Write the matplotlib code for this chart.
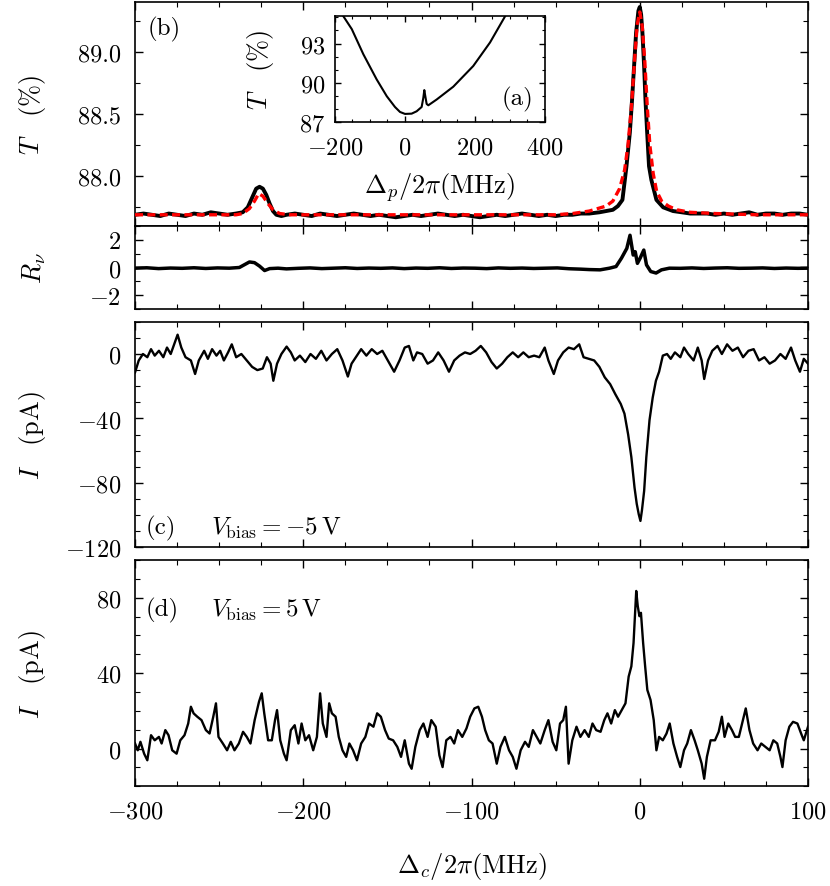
import matplotlib
matplotlib.use('Agg')
import matplotlib.pyplot as plt
from matplotlib.ticker import MultipleLocator, FixedLocator

plt.rcParams.update({
    'font.family': 'serif', 'font.serif': ['cmr10'], 'mathtext.fontset': 'cm',
    'axes.formatter.use_mathtext': True, 'font.size': 17, 'axes.linewidth': 1.2,
})

# ---------------- data ----------------
# panel (b): transmission vs coupling detuning
x_T = [-300, -295, -290, -285, -280, -275, -270, -265, -260, -255, -250, -245, -240,
       -236, -233, -230, -228, -226, -224, -222, -220, -218, -216, -213, -210,
       -205, -200, -195, -190, -185, -180, -175, -170, -165, -160,
       -155, -150, -145, -140, -135, -130, -125, -120, -115, -110,
       -105, -100, -95, -90, -85, -80, -75, -70, -65, -60,
       -55, -50, -45, -40, -35, -30,
       -24, -20, -16, -13, -10.3, -7.9, -5.9, -4.6, -3.4, -2.2, -0.8, 0, 0.8, 1.6,
       2.6, 3.4, 4.4, 5.5, 6.9, 9.9, 13.9, 19.8,
       25, 30, 35, 40, 45, 50, 55, 60, 65, 70, 75, 80, 85, 90, 95, 100]
T_data = [87.69, 87.70, 87.69, 87.68, 87.70, 87.69, 87.68, 87.70, 87.69, 87.71, 87.70, 87.69, 87.70,
          87.71, 87.75, 87.84, 87.90, 87.915, 87.90, 87.85, 87.78, 87.72, 87.69, 87.68, 87.69,
          87.70, 87.69, 87.68, 87.70, 87.69, 87.68, 87.69, 87.70, 87.69, 87.68,
          87.69, 87.68, 87.67, 87.68, 87.69, 87.68, 87.69, 87.70, 87.69, 87.68,
          87.69, 87.68, 87.67, 87.68, 87.69, 87.68, 87.69, 87.70, 87.69, 87.68,
          87.69, 87.68, 87.69, 87.69, 87.70, 87.70,
          87.71, 87.72, 87.73, 87.76, 87.81, 88.08, 88.35, 88.61, 88.88, 89.15, 89.33, 89.36, 89.30, 89.15,
          88.88, 88.61, 88.35, 88.08, 87.97, 87.81, 87.75, 87.72,
          87.71, 87.70, 87.70, 87.70, 87.69, 87.70, 87.69, 87.70, 87.71, 87.69, 87.70, 87.70, 87.69, 87.70, 87.70, 87.69]

x_fit = [-300, -260, -240, -236, -232, -229, -226.5, -224, -221, -218,
         -214, -208, -150, -80, -50, -40, -30, -25, -20, -16,
         -12, -9, -7, -5, -3, -1.5, 0, 1.5, 3, 4.5,
         6, 8, 10, 13, 17, 22, 30, 45, 70, 100]
T_fit = [87.69, 87.69, 87.69, 87.70, 87.74, 87.80, 87.86, 87.84, 87.78, 87.73,
         87.70, 87.69, 87.69, 87.69, 87.69, 87.70, 87.72, 87.74, 87.76, 87.80,
         87.90, 88.05, 88.25, 88.55, 88.95, 89.22, 89.32, 89.20, 88.92, 88.55,
         88.25, 88.02, 87.88, 87.80, 87.76, 87.73, 87.71, 87.70, 87.69, 87.69]

# residuals
x_R = [-300, -293, -286, -279, -272, -265, -258, -251, -244, -238,
       -235, -232, -229, -226, -223, -220, -215, -210, -203, -196,
       -189, -182, -175, -168, -161, -154, -147, -140, -133, -126,
       -119, -112, -105, -98, -91, -84, -77, -70, -63, -56,
       -49, -42, -35, -30, -23.6, -18, -14.1, -10.9, -7.7, -5.8,
       -3.9, -2.7, -1.4, 0.2, 2.4, 4.0, 6.5, 9.7, 12.9, 17.6,
       24, 31, 38, 45, 52, 59, 66, 73, 80, 87, 94, 100]
R_vals = [-0.05, -0.02, -0.08, -0.04, -0.06, -0.02, -0.07, -0.03, -0.05, 0.0,
          0.2, 0.4, 0.35, 0.1, -0.22, -0.08, -0.05, -0.1, -0.06, -0.03,
          -0.08, -0.05, -0.02, -0.07, -0.04, -0.06, -0.03, -0.08, -0.04, -0.06,
          -0.02, -0.07, -0.04, -0.05, -0.08, -0.03, -0.06, -0.04, -0.07, -0.05,
          -0.03, -0.09, -0.12, -0.15, -0.17, -0.05, 0.07, 0.67, 1.38, 2.33,
          0.9, 1.14, 0.3, 0.67, 1.26, 0.19, -0.29, -0.4, -0.17, -0.05,
          -0.06, -0.03, -0.07, -0.04, -0.02, -0.06, -0.05, -0.03, -0.07, -0.04, -0.06, -0.05]

# panel (c): current, V_bias = -5 V
x_c = [-300.0, -297.8, -295.3, -292.7, -290.5, -288.3, -285.8, -283.2, -281.0, -278.8,
       -274.7, -272.5, -270.0, -266.8, -264.3, -262.1, -258.9, -256.7, -254.2, -251.6,
       -249.4, -247.2, -244.7, -242.5, -239.9, -236.8, -233.6, -230.4, -227.3, -224.1,
       -221.6, -219.4, -217.8, -215.6, -213.0, -209.9, -207.4, -205.1, -202.0, -198.8,
       -195.7, -192.5, -189.3, -186.2, -183.0, -179.8, -176.7, -173.5, -171.3, -168.8,
       -165.6, -162.5, -159.3, -156.1, -153.0, -149.8, -146.0, -142.8, -139.7, -137.2,
       -134.6, -132.4, -129.3, -126.1, -122.9, -119.8, -116.6, -113.4, -110.3, -107.1,
       -103.9, -100.8, -97.6, -94.5, -91.3, -88.1, -85.0, -81.8, -78.7, -75.5,
       -72.3, -69.2, -66.0, -62.8, -59.7, -56.5, -54.3, -51.1, -48.6, -45.5,
       -42.3, -39.1, -36.0, -33.4, -30.3, -27.1, -24.0, -20.8, -17.6, -14.5,
       -11.3, -9.1, -6.9, -5.0, -3.1, -1.8, -0.6, 0.4, 1.3, 2.6,
       3.9, 5.8, 7.7, 9.6, 11.5, 13.7, 16.2, 18.4, 20.9, 24.1,
       26.3, 28.8, 32.0, 34.5, 36.8, 38.3, 40.6, 43.1, 46.2, 48.8,
       51.9, 55.1, 58.3, 61.4, 64.6, 67.7, 70.9, 74.1, 77.2, 80.4,
       83.6, 86.7, 89.9, 92.4, 95.2, 97.5, 100.0]
I_c = [-11.4, -4, 0, -2, 3, -1, 2, -2, 4, 0,
       12, 4, -2, -4, -12.4, -4, 2, -3, 3, -1,
       2, -4, 1, 6, -2, 0, -4, -8, -10, -9,
       -2, -6, -16.6, -6, 0, 4.6, 1, -4, -1, -5,
       0, -3, 2, -4, 0, 3, -4, -14, -6, -2,
       3, -1, 3, 0, 2, -4, -11, -4, 4, 5,
       -4, 1, 0, -6, -4, 1, -4, -11, -4, -1,
       1, 0, 2, 5, 1, -5, -9, -6, -2, 1,
       -2, 1, -2, -1, -2, 4, -4, -12.4, -4, 1,
       4, 3, 6, -2, -3, -4, -8, -14.5, -18.7, -25,
       -31, -37, -50, -64, -83, -93, -99.5, -103.6, -97, -85,
       -64, -41, -27, -16.6, -11, -1, 0, -3, 1, -2,
       4, 0, -4, 4, -4, -15.5, -4, 2, 5, 0,
       6, 2, 4, -2, 2, 3, -4, -2, -6, -4,
       0, -3, 4, -4, -11, -3, -6]

# panel (d): current, V_bias = 5 V
x_d = [-300.0, -298.4, -296.8, -294.6, -292.7, -290.5, -288.3, -285.8, -284.2, -282.0,
       -280.1, -277.9, -275.3, -273.1, -270.6, -268.4, -266.8, -265.2, -263.0, -260.5,
       -257.9, -255.7, -253.5, -251.9, -250.4, -247.8, -245.3, -243.1, -240.9, -238.3,
       -235.8, -233.6, -231.4, -228.9, -226.3, -224.7, -223.2, -220.9, -218.7, -216.8,
       -215.6, -213.7, -211.5, -209.9, -207.4, -205.1, -202.9, -201.0, -198.8, -196.6,
       -194.1, -191.9, -190.0, -188.4, -186.2, -184.6, -183.0, -180.8, -178.9, -176.7,
       -174.5, -172.6, -170.4, -168.1, -165.6, -163.1, -160.9, -158.3, -156.1, -153.9,
       -151.4, -149.2, -146.6, -144.1, -141.9, -139.7, -137.2, -135.6, -133.4, -130.8,
       -128.6, -126.1, -123.9, -121.3, -119.1, -117.2, -115.0, -112.5, -110.3, -108.1,
       -105.5, -103.0, -100.8, -98.3, -96.0, -93.8, -91.9, -89.7, -87.5, -85.0,
       -82.8, -80.2, -77.7, -75.5, -73.3, -70.8, -68.2, -66.0, -63.5, -61.3,
       -59.1, -56.5, -54.3, -51.8, -49.6, -47.4, -45.5, -43.9, -42.3, -40.1,
       -37.6, -35.3, -32.8, -30.3, -28.1, -25.9, -23.3, -21.1, -19.2, -17.0,
       -14.8, -12.9, -10.7, -8.5, -6.6, -5.0, -3.7, -2.8, -2.1, -1.2,
       -0.2, 0.7, 2.0, 3.2, 4.5, 6.4, 8.3, 9.9, 11.5, 13.7,
       15.9, 17.8, 20.0, 22.2, 24.1, 26.3, 28.2, 30.4, 32.6, 34.5,
       36.8, 38.3, 39.9, 42.1, 44.7, 46.9, 48.8, 50.4, 52.6, 54.8,
       56.7, 58.9, 60.8, 63.0, 65.2, 67.4, 70.0, 72.2, 74.7, 77.2,
       79.4, 81.7, 83.6, 84.8, 86.7, 88.9, 91.1, 93.7, 95.9, 97.5, 100.0]
I_d = [2.7, -0.9, 3.6, -2.7, -6.2, 7.1, 4.4, 6.2, 2.7, 9.8,
       7.1, -0.9, -2.7, 4.4, 7.1, 13.3, 22.2, 18.7, 16.9, 15.1,
       9.8, 8.0, 16.9, 24.0, 6.2, 2.7, -0.9, 3.6, -0.9, 2.7,
       8.9, 6.2, 2.7, 15.1, 24.9, 29.3, 18.7, 4.4, 4.4, 15.1,
       20.4, 4.4, -2.7, -6.2, 9.8, 12.4, 2.7, 13.3, 4.4, 7.1,
       -0.9, 6.2, 29.3, 13.3, 6.2, 24.0, 18.7, 16.9, 6.2, -0.9,
       -4.4, 2.7, -0.9, -6.2, 2.7, 6.2, 13.3, 11.6, 18.7, 16.9,
       9.8, 5.3, 4.4, 0.9, -4.4, 4.4, -8.0, -10.7, 0.9, 9.8,
       13.3, 6.2, 15.1, 11.6, -3.6, -9.8, 4.4, 6.2, 2.7, 9.8,
       6.2, 10.7, 16.9, 21.3, 22.2, 16.9, 9.8, 4.4, 2.7, -8.0,
       0.9, 6.2, -0.9, -4.4, -10.7, -0.9, 3.6, 0.9, 9.8, 6.2,
       2.7, 9.8, 15.1, 3.6, -0.9, 13.3, 15.1, 22.2, -8.0, 4.4,
       11.6, 6.2, 9.8, 6.2, 13.3, 9.8, 8.9, 15.1, 18.7, 13.3,
       20.4, 16.9, 20.4, 24.0, 38.2, 43.6, 56.0, 72.0, 83.6, 75.6,
       70.2, 72.0, 56.0, 43.6, 31.1, 25.8, 15.1, -0.9, 6.2, 4.4,
       8.0, 13.3, 2.7, -4.4, -9.8, -0.9, 2.7, 9.8, 4.4, -0.9,
       -8.0, -16.0, -4.4, 4.4, 4.4, 8.9, 16.9, 6.2, 13.3, 9.8,
       6.2, 6.2, 13.3, 21.3, 9.8, 2.7, -0.9, 2.7, 0.9, -0.9,
       4.4, 2.7, -4.4, -9.8, 4.4, 11.6, 14.2, 13.3, 8.0, 4.4, 11.6]

# inset (a): transmission vs probe detuning
x_in = [-176, -152, -119, -81, -52, -28.6, -14.3, 0, 19, 33.3, 47.6, 52.4, 55.2, 58.1,
        61.9, 66.7, 90.5, 138, 195, 243, 286]
T_in = [95.08, 94.1, 92.18, 90.26, 88.97, 88.15, 87.77, 87.62, 87.64, 87.82, 88.15, 88.85, 89.44, 88.97,
        88.38, 88.28, 88.72, 89.7, 91.28, 93.08, 95.08]

# ---------------- figure ----------------
fig = plt.figure(figsize=(8.3, 8.87), dpi=100)
L, W = 0.1627, 0.8108
axb = fig.add_axes([L, 0.7441, W, 0.2525])
axr = fig.add_axes([L, 0.6505, W, 0.0936])
axc = fig.add_axes([L, 0.3818, W, 0.2543])
axd = fig.add_axes([L, 0.1124, W, 0.2551])
axi = fig.add_axes([0.4036, 0.8613, 0.253, 0.1195])

LABEL_FS = 19
TICK_FS = 17.5


def style(ax, labelbottom=False, size=TICK_FS):
    ax.tick_params(which='both', direction='in', top=True, right=True,
                   labelsize=size, pad=10)
    ax.tick_params(which='major', length=6, width=1)
    ax.tick_params(which='minor', length=3.5, width=0.8)
    ax.tick_params(axis='x', labelbottom=labelbottom)


for ax in (axb, axr, axc, axd):
    ax.set_xlim(-300, 100)
    ax.xaxis.set_major_locator(MultipleLocator(100))
    ax.xaxis.set_minor_locator(MultipleLocator(25))
    style(ax, labelbottom=(ax is axd))

# (b)
axb.plot(x_T, T_data, color='black', lw=2.8, zorder=2)
axb.plot(x_fit, T_fit, color='red', lw=2.4, dashes=[2.4, 1.3], zorder=3)
axb.set_ylim(87.6, 89.4)
axb.yaxis.set_major_locator(FixedLocator([88.0, 88.5, 89.0]))
axb.yaxis.set_minor_locator(MultipleLocator(0.25))
axb.yaxis.set_major_formatter(plt.FuncFormatter(lambda v, p: f'{v:.1f}'))
axb.set_ylabel(r'$T\quad(\%)$', fontsize=LABEL_FS)
axb.text(0.018, 0.94, '(b)', transform=axb.transAxes, fontsize=18, va='top', ha='left')

# residuals
axr.plot(x_R, R_vals, color='black', lw=2.5)
axr.set_ylim(-3, 3)
axr.yaxis.set_major_locator(FixedLocator([-2, 0, 2]))
axr.yaxis.set_minor_locator(MultipleLocator(1))
axr.set_ylabel(r'$R_\nu$', fontsize=LABEL_FS)

# (c)
axc.plot(x_c, I_c, color='black', lw=1.7)
axc.set_ylim(-120, 20)
axc.yaxis.set_major_locator(FixedLocator([-120, -80, -40, 0]))
axc.yaxis.set_minor_locator(MultipleLocator(10))
axc.set_ylabel(r'$I\quad\mathrm{(pA)}$', fontsize=LABEL_FS)
axc.text(0.015, 0.09, '(c)', transform=axc.transAxes, fontsize=18, va='center')
axc.text(0.113, 0.09, r'$V_\mathrm{bias} = -5\,\mathrm{V}$', transform=axc.transAxes,
         fontsize=18, va='center')

# (d)
axd.plot(x_d, I_d, color='black', lw=1.7)
axd.set_ylim(-20, 100)
axd.yaxis.set_major_locator(FixedLocator([0, 40, 80]))
axd.yaxis.set_minor_locator(MultipleLocator(10))
axd.set_ylabel(r'$I\quad\mathrm{(pA)}$', fontsize=LABEL_FS)
axd.text(0.015, 0.783, '(d)', transform=axd.transAxes, fontsize=18, va='center')
axd.text(0.113, 0.783, r'$V_\mathrm{bias} = 5\,\mathrm{V}$', transform=axd.transAxes,
         fontsize=18, va='center')
axd.set_xlabel(r'$\Delta_c/2\pi(\mathrm{MHz})$', fontsize=LABEL_FS)
axd.xaxis.set_label_coords(0.5, -0.28)

for ax in (axb, axr, axc, axd):
    ax.yaxis.set_label_coords(-0.13, 0.5)

# inset
axi.plot(x_in, T_in, color='black', lw=1.5)
axi.set_xlim(-200, 400)
axi.set_ylim(87, 95.1)
axi.xaxis.set_major_locator(FixedLocator([-200, 0, 200, 400]))
axi.xaxis.set_minor_locator(MultipleLocator(50))
axi.yaxis.set_major_locator(FixedLocator([87, 90, 93]))
axi.yaxis.set_minor_locator(MultipleLocator(1))
style(axi, labelbottom=True)
axi.tick_params(which='major', length=4)
axi.tick_params(which='minor', length=2.5)
axi.tick_params(axis='y', pad=7)
axi.set_xlabel(r'$\Delta_p/2\pi(\mathrm{MHz})$', fontsize=LABEL_FS)
axi.xaxis.set_label_coords(0.5, -0.45)
axi.set_ylabel(r'$T\quad(\%)$', fontsize=LABEL_FS)
axi.yaxis.set_label_coords(-0.28, 0.5)
axi.text(0.87, 0.22, '(a)', transform=axi.transAxes, fontsize=18, ha='center', va='center')

fig.savefig('out.png', dpi=100)
